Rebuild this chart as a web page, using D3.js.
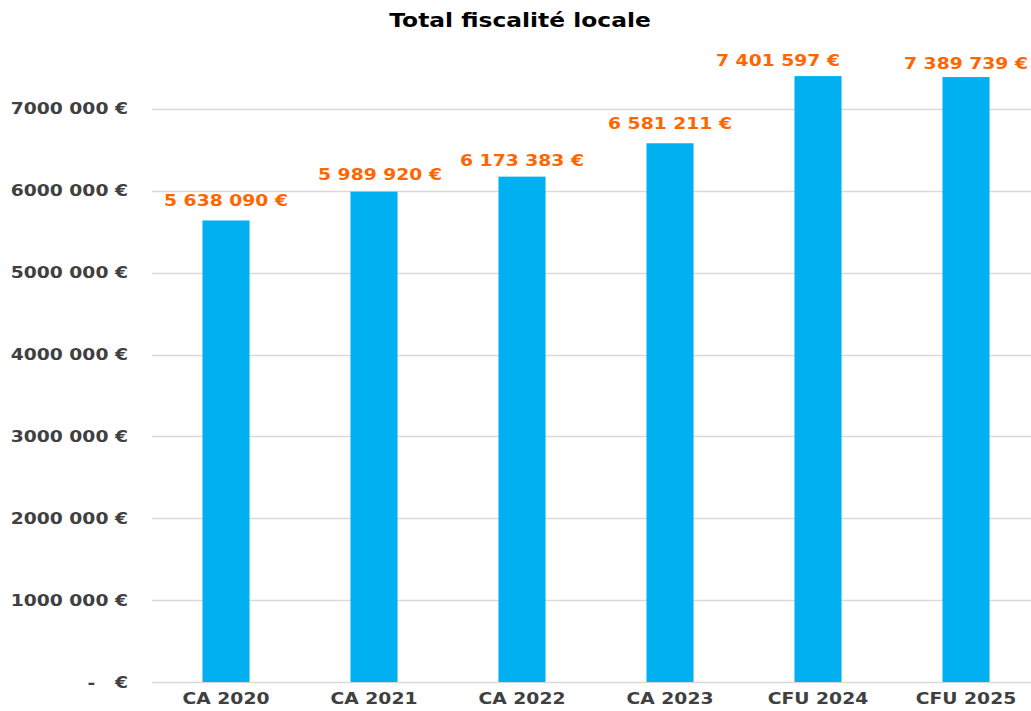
<!DOCTYPE html>
<html><head><meta charset="utf-8">
<script src="https://cdn.jsdelivr.net/npm/d3@7"></script>
<style>html,body{margin:0;padding:0;background:#fff;} svg{display:block;font-family:"DejaVu Sans",Verdana,sans-serif;font-weight:bold;}</style>
</head><body>
<script>
const categories = ["CA 2020","CA 2021","CA 2022","CA 2023","CFU 2024","CFU 2025"];
const values = [5638090, 5989920, 6173383, 6581211, 7401597, 7389739];
const tickValues = [0,1000000,2000000,3000000,4000000,5000000,6000000,7000000];
const title = "Total fiscalité locale";

const W = 1031, H = 711, SX = 1.25;
const svg = d3.select("body").append("svg").attr("width", W).attr("height", H);

const x = d3.scaleBand().domain(categories).range([152, 1040]).padding(0);
const y = d3.scaleLinear().domain([0, 8000000]).range([682, 682 - 8*81.86]);
const barW = x.bandwidth() * 0.318;

// manual label placement nudges seen in the reference (layout only)
const labelDx = {"CFU 2024": -40, "CA 2021": 6};
const labelDy = {"CA 2020": -1, "CA 2021": 1, "CA 2022": 2, "CA 2023": -1, "CFU 2024": 3, "CFU 2025": 5};

const fmtGroup = v => String(Math.round(v)).replace(/\B(?=(\d{3})+(?!\d))/g, " ");
const tickFmt = v => {
  if (v === 0) return "-\u00a0\u00a0\u00a0€";
  const s = fmtGroup(v).split(" ");
  return s[0] + s[1] + " " + s.slice(2).join(" ") + " €";
};

function stretchedText(sel, xx, yy, txt, anchor, size, color) {
  sel.append("g").attr("transform", `translate(${xx},${yy}) scale(${SX},1)`)
    .append("text").attr("text-anchor", anchor).attr("font-size", size)
    .attr("fill", color).text(txt);
}

// gridlines
svg.append("g").selectAll("line").data(tickValues).join("line")
  .attr("x1", 152).attr("x2", 1040)
  .attr("y1", d => Math.round(y(d)) + 0.5).attr("y2", d => Math.round(y(d)) + 0.5)
  .attr("stroke", "#d9d9d9").attr("stroke-width", 1.3);

// bars
svg.append("g").selectAll("rect").data(values).join("rect")
  .attr("x", (d,i) => x(categories[i]) + x.bandwidth()/2 - barW/2)
  .attr("width", barW)
  .attr("y", d => y(d))
  .attr("height", d => y(0) - y(d))
  .attr("fill", "#00b0f0");

// y tick labels
const yl = svg.append("g");
tickValues.forEach(v => stretchedText(yl, 128, y(v) + 5.5, tickFmt(v), "end", 15, "#404040"));

// x labels
const xl = svg.append("g");
categories.forEach(c => stretchedText(xl, x(c) + x.bandwidth()/2, 704, c, "middle", 15, "#404040"));

// value labels
const vl = svg.append("g");
values.forEach((v,i) => {
  const c = categories[i];
  stretchedText(vl, x(c) + x.bandwidth()/2 + (labelDx[c] || 0), y(v) - 13 + (labelDy[c] || 0),
    fmtGroup(v) + " €", "middle", 15, "#ff6600");
});

// title
stretchedText(svg, 520, 27, title, "middle", 18.7, "#000");
</script>
</body></html>
